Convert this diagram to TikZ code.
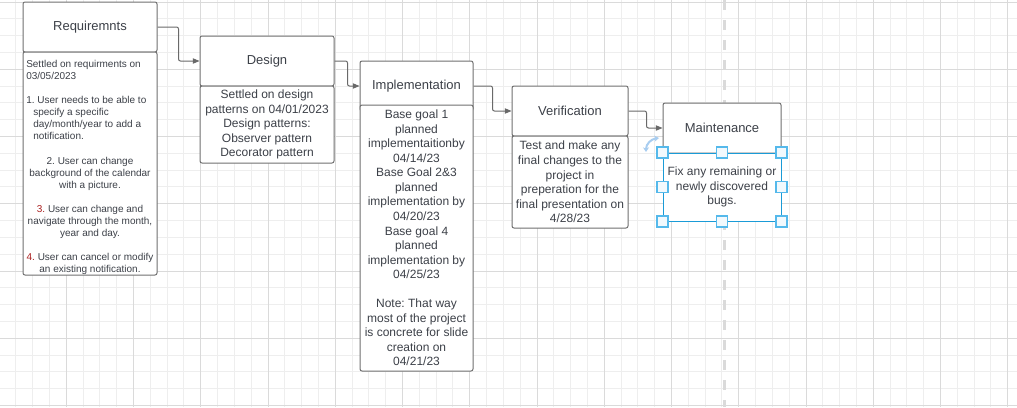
\documentclass[tikz,border=0pt]{standalone}
\usepackage{fontspec}
\setmainfont{Liberation Sans}
\usepackage{xcolor}
\usetikzlibrary{arrows.meta}
\frenchspacing

\definecolor{inkgray}{RGB}{60,64,72}
\definecolor{edgegray}{RGB}{112,112,112}
\definecolor{linkgray}{RGB}{105,105,105}
\definecolor{gridminor}{RGB}{238,238,238}
\definecolor{gridmajor}{RGB}{218,218,218}
\definecolor{selblue}{RGB}{26,155,215}
\definecolor{handleblue}{RGB}{85,185,235}
\definecolor{handlefill}{RGB}{242,249,253}
\definecolor{rotblue}{RGB}{168,205,240}
\definecolor{numred}{RGB}{170,30,30}

\begin{document}
\begin{tikzpicture}[x=0.75pt,y=0.75pt,yscale=-1,xscale=1,
  headbox/.style={draw=edgegray, fill=white, line width=0.75pt, rounded corners=1.5pt, text=inkgray, inner sep=0pt, font=\fontsize{9.75pt}{11pt}\selectfont},
  bodybox/.style={draw=edgegray, fill=white, line width=0.75pt, rounded corners=1.5pt, text=inkgray, inner sep=0pt, align=center, font=\fontsize{9pt}{10.9pt}\selectfont},
  reqtext/.style={text=inkgray, inner sep=0pt, font=\fontsize{7.5pt}{9pt}\selectfont},
  link/.style={draw=linkgray, line width=0.75pt, rounded corners=1.5pt, -{Triangle[length=5pt,width=4pt]}},
  selhandle/.style={draw=handleblue, fill=handlefill, line width=1.1pt, minimum size=8pt, inner sep=0pt}]

\useasboundingbox (0,0) rectangle (1017,407);
\fill[white] (0,0) rectangle (1017,407);

%Grid
\foreach \i in {0,...,61} \draw[gridminor, line width=0.75pt] ({-1+16.8125*\i},0) -- ({-1+16.8125*\i},407);
\foreach \j in {0,...,24} \draw[gridminor, line width=0.75pt] (0,{2+16.8125*\j}) -- (1017,{2+16.8125*\j});
\foreach \i in {0,...,15} \draw[gridmajor, line width=0.75pt] ({-1+67.25*\i},0) -- ({-1+67.25*\i},407);
\foreach \j in {0,...,6} \draw[gridmajor, line width=0.75pt] (0,{2+67.25*\j}) -- (1017,{2+67.25*\j});
%Dashed guide
\draw[gridmajor, line width=2.25pt, dash pattern=on 7.5pt off 7.5pt] (724,0) -- (724,407);

% Requiremnts
\node[headbox, minimum width=100.5pt, minimum height=37.5pt] (reqhead) at (90,27) {Requiremnts};
\node[bodybox, minimum width=100.5pt, minimum height=167.25pt] (reqbody) at (90,163.5) {};
% Text Node
\node[reqtext, anchor=north west, align=left] (reqnote) at (26,60) {Settled on requirments on\\03/05/2023\\[9pt]1. User needs to be able to\\\hspace*{5.25pt}specify a specific\\\hspace*{5.25pt}day/month/year to add a\\\hspace*{5.25pt}notification.};
% Text Node
\node[reqtext, anchor=north, align=center] (reqlist) at (90,157) {2. User can change\\background of the calendar\\with a picture.\\[9pt]\textcolor{numred}{3.} User can change and\\navigate through the month,\\year and day.\\[9pt]\textcolor{numred}{4.} User can cancel or modify\\an existing notification.};

% Design
\node[headbox, minimum width=100.5pt, minimum height=37.5pt] (deshead) at (267,61) {Design};
\node[bodybox, minimum width=100.5pt, minimum height=57.75pt] (desbody) at (267,124.5) {Settled on design\\patterns on 04/01/2023\\Design patterns:\\Observer pattern\\Decorator pattern};

% Implementation
\node[headbox, minimum width=84.75pt, minimum height=37.5pt] (imphead) at (416.5,86) {Implementation};
\node[bodybox, minimum width=84.75pt, minimum height=199.5pt] (impbody) at (416.5,238) {Base goal 1\\planned\\implementaitionby\\04/14/23\\Base Goal 2\&3\\planned\\implementation by\\04/20/23\\Base goal 4\\planned\\implementation by\\04/25/23\\[10.9pt]Note: That way\\most of the project\\is concrete for slide\\creation on\\04/21/23};

% Verification
\node[headbox, minimum width=87pt, minimum height=37.5pt] (verhead) at (570,111) {Verification};
\node[bodybox, minimum width=87pt, minimum height=69pt] (verbody) at (570,182) {Test and make any\\final changes to the\\project in\\preperation for the\\final presentation on\\4/28/23};

% Maintenance
\node[headbox, minimum width=88.5pt, minimum height=37.5pt] (mainhead) at (722,128) {Maintenance};
\node[bodybox, draw=selblue, rounded corners=0pt, minimum width=88.5pt, minimum height=51pt] (mainbody) at (722,187) {Fix any remaining or\\newly discovered\\bugs.};

%Straight Lines
\draw[link] (reqhead.east) -- ++(21,0) |- (deshead.west);
\draw[link] (deshead.east) -- ++(13,0) |- (imphead.west);
\draw[link] (imphead.east) -- ++(19,0) |- (verhead.west);
\draw[link] (verhead.east) -- ++(18,0) |- (mainhead.west);

%Selection handles
\foreach \a [count=\i] in {north west,north,north east,west,east,south west,south,south east}
  \node[selhandle] (hdl\i) at (mainbody.\a) {};
\draw[rotblue, line width=1.5pt, {Stealth[length=3.5pt,width=4.5pt]}-{Stealth[length=3.5pt,width=4.5pt]}] (646,152) .. controls (646,144) and (651,139) .. (659,138);

\end{tikzpicture}
\end{document}
